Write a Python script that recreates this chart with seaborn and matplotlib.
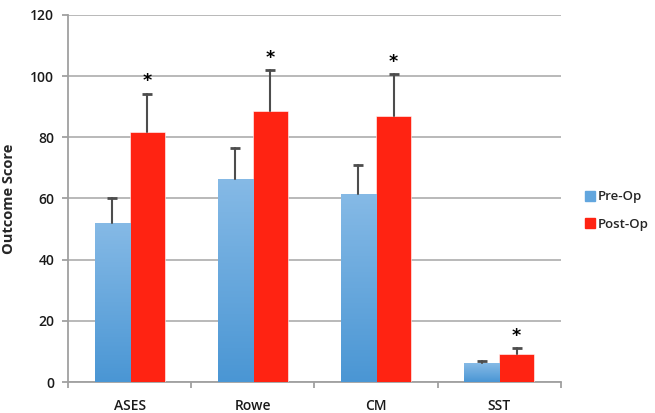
import numpy as np
import pandas as pd
import seaborn as sns
import matplotlib.pyplot as plt
from matplotlib.colors import LinearSegmentedColormap
from matplotlib.lines import Line2D

# data
categories = ['ASES', 'Rowe', 'CM', 'SST']
groups = ['Pre-Op', 'Post-Op']
pre_op = [52, 66.5, 61.6, 6.1]
post_op = [81.8, 88.6, 87.1, 9.3]
pre_err = [8, 10, 9.2, 0.8]
post_err = [12.5, 13.4, 13.5, 1.7]
significant = [True, True, True, True]

df = pd.DataFrame({
    'Measure': categories * 2,
    'Group': [groups[0]] * 4 + [groups[1]] * 4,
    'Score': pre_op + post_op,
    'Err': pre_err + post_err,
})

blue = '#62A6DE'
red = '#FF2312'

sns.set_style('white')
plt.rcParams['font.family'] = ['Open Sans', 'DejaVu Sans']

fig = plt.figure(figsize=(6.55, 4.13), dpi=100)
ax = fig.add_axes([0.104, 0.075, 0.752, 0.889])

sns.barplot(data=df, x='Measure', y='Score', hue='Group', order=categories,
            hue_order=groups, palette=[blue, red], width=0.57, saturation=1,
            edgecolor='white', linewidth=0.4, legend=False, ax=ax, zorder=3)

# gradient fill on the blue bars
cmap = LinearSegmentedColormap.from_list('bl', ['#4A96D4', '#86BAE6'])
grad = np.linspace(0, 1, 256).reshape(-1, 1)
patches = ax.patches
for p in patches[:len(categories)]:
    x0, y0 = p.get_x(), p.get_y()
    w, h = p.get_width(), p.get_height()
    im = ax.imshow(grad, cmap=cmap, aspect='auto', origin='lower',
                   extent=[x0, x0 + w, y0, y0 + h], zorder=3.5)
    im.set_clip_path(p)

# one-sided error bars (top cap only) and significance stars
for i, row in enumerate(df.itertuples()):
    p = patches[i]
    xc = p.get_x() + p.get_width() / 2
    top = row.Score + row.Err
    ax.plot([xc, xc], [row.Score, top], color='#4D4D4D', lw=1.5, zorder=4)
    ax.plot([xc], [top], marker='_', markersize=7, mew=2, color='#4D4D4D',
            zorder=4)
    if row.Group == 'Post-Op' and significant[categories.index(row.Measure)]:
        ax.text(xc, top + 1.0, '*', ha='center', va='bottom',
                fontsize=12.5, fontweight='bold', color='black', zorder=5,
                family='DejaVu Sans')

ax.set_ylim(0, 120)
ax.set_xlim(-0.5, len(categories) - 0.5)
ax.set_yticks(range(0, 121, 20))
ax.yaxis.grid(True, color='#B3B3B3', lw=1.3, zorder=0)
ax.set_axisbelow(True)

for s in ['top', 'right']:
    ax.spines[s].set_visible(False)
for s in ['left', 'bottom']:
    ax.spines[s].set_color('#A0A0A0')
    ax.spines[s].set_linewidth(1.3)

ax.tick_params(axis='y', left=True, length=4, width=1.3, color='#A0A0A0',
               labelsize=10, pad=6)
ax.tick_params(axis='x', bottom=False, labelsize=10, pad=9)
ax.set_xticks(np.arange(-0.5, len(categories)), minor=True)
ax.tick_params(axis='x', which='minor', bottom=True, length=4, width=1.3,
               color='#A0A0A0')
for lab in ax.get_xticklabels() + ax.get_yticklabels():
    lab.set_fontweight('semibold')
    lab.set_color('#1A1A1A')

ax.set_xlabel('')
ax.set_ylabel('Outcome Score', fontsize=10.5, fontweight='bold', labelpad=10)

handles = [Line2D([], [], marker='s', ls='', color=c, markersize=6.5)
           for c in [blue, red]]
fig.legend(handles, groups, loc='center left', bbox_to_anchor=(0.878, 0.49),
           frameon=False, handlelength=0.5, handletextpad=0.35,
           labelspacing=1.1, prop={'size': 9.5, 'weight': 'semibold'})

fig.savefig('out.png', dpi=100)
